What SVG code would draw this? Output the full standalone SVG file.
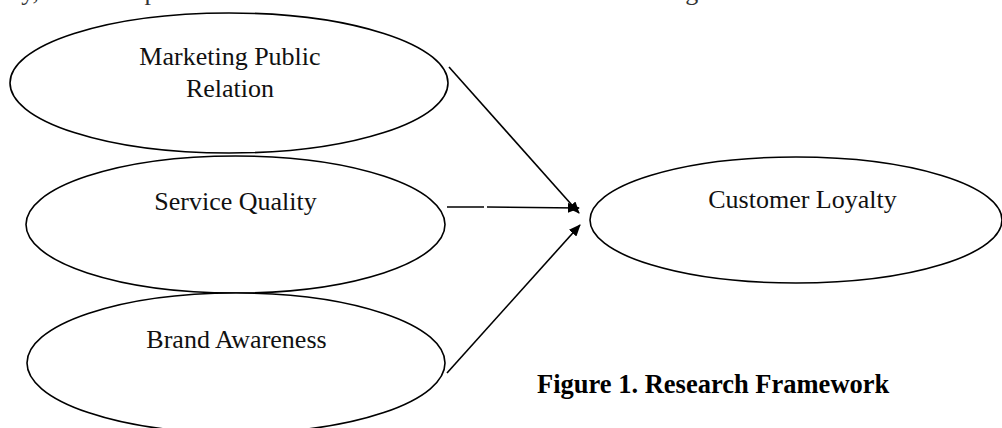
<svg xmlns="http://www.w3.org/2000/svg" width="1002" height="428" viewBox="0 0 1002 428">
<style>
.node ellipse{fill:#fff;stroke:#000;stroke-width:1.6}
.lbl{font-family:"Liberation Serif","Times New Roman",serif;font-size:26px;fill:#111;text-anchor:middle}
.cap{font-family:"Liberation Serif","Times New Roman",serif;font-size:26.5px;font-weight:bold;fill:#000}
.body{font-family:"Liberation Serif","Times New Roman",serif;font-size:26px;fill:#333}
.edge{stroke:#000;stroke-width:1.6;fill:none}
</style>
<defs>
<marker id="ah" viewBox="0 0 12 10" refX="11" refY="5" markerWidth="12" markerHeight="10" markerUnits="userSpaceOnUse" orient="auto">
<path d="M0,0 L12,5 L0,10 Z" fill="#000"/>
</marker>
</defs>
<rect width="1002" height="428" fill="#fff"/>
<text class="body" x="14" y="-0.5">ly, the conceptual framework of this research can be shown in Figure 1.</text>
<g id="marketing" class="node">
<ellipse cx="229" cy="83" rx="219" ry="70"/>
<text class="lbl" x="230" y="65">Marketing Public</text>
<text class="lbl" x="230" y="97">Relation</text>
</g>
<g id="service" class="node">
<ellipse cx="235.5" cy="224.5" rx="209.5" ry="68.5"/>
<text class="lbl" x="235.5" y="210">Service Quality</text>
</g>
<g id="brand" class="node">
<ellipse cx="236" cy="363" rx="209" ry="70"/>
<text class="lbl" x="236.5" y="348">Brand Awareness</text>
</g>
<g id="loyalty" class="node">
<ellipse cx="796" cy="220" rx="206" ry="63"/>
<text class="lbl" x="802.5" y="208">Customer Loyalty</text>
</g>
<g id="connectors">
<line class="edge" x1="449" y1="67" x2="579" y2="213" marker-end="url(#ah)"/>
<line class="edge" x1="447" y1="207" x2="484" y2="207"/>
<line class="edge" x1="487" y1="207" x2="579" y2="208" marker-end="url(#ah)"/>
<line class="edge" x1="447" y1="373" x2="580" y2="225" marker-end="url(#ah)"/>
</g>
<text class="cap" x="537" y="393">Figure 1. Research Framework</text>
</svg>
